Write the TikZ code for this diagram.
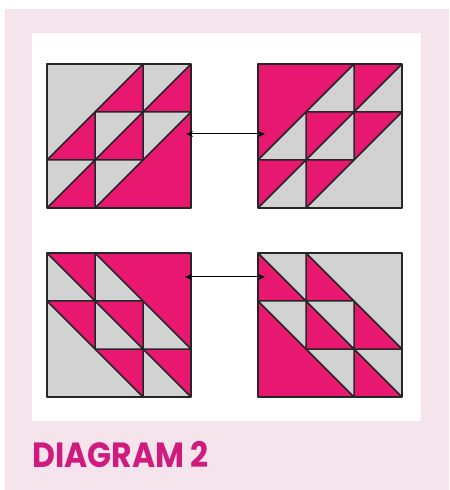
\documentclass[tikz,border=0pt]{standalone}
\usepackage{fontspec}
\newfontfamily\titlefont{Poppins}
\usetikzlibrary{arrows.meta}

\definecolor{quiltpink}{HTML}{E8176F}
\definecolor{quiltgray}{HTML}{D2D2D2}
\definecolor{panelpink}{HTML}{F6E4EC}
\definecolor{titlepink}{HTML}{CF1A7E}

% one 3x3 block, #1 = colour above the diagonals, #2 = colour below
\newcommand{\geeseblock}[2]{%
  \fill[#2] (0,0) rectangle (3,3);
  \fill[#1] (0,1) -- (0,3) -- (2,3) -- cycle
            (2,2) -- (2,3) -- (3,3) -- cycle
            (1,1) -- (1,2) -- (2,2) -- cycle
            (2,1) -- (2,2) -- (3,2) -- cycle
            (0,0) -- (0,1) -- (1,1) -- cycle
            (1,0) -- (1,1) -- (2,1) -- cycle;
  \draw[seam] (0,0) -- (3,3) (0,1) -- (2,3) (1,0) -- (3,2)
              (1,0) -- (1,2) (2,1) -- (2,3)
              (0,1) -- (2,1) (1,2) -- (3,2);
  \draw[seam] (0,0) rectangle (3,3);
}

\begin{document}
\begin{tikzpicture}[
    x=0.5pt, y=-0.5pt,
    seam/.style={line width=0.75pt, black!85, line join=round},
    swap/.style={{Stealth[length=3.5pt,width=3pt]}-{Stealth[length=3.5pt,width=3pt]}, line width=0.5pt},
    title/.style={font=\titlefont\bfseries\fontsize{17.5}{20}\selectfont, text=titlepink, inner sep=0pt, xscale=0.9}
]
\useasboundingbox (0,0) rectangle (449,490);

% panels
\fill[panelpink] (5,9) rectangle (449,490);
\fill[white] (32,33) rectangle (421,421);

% top row (diagonals going up)
\begin{scope}[shift={(23.5pt,-104pt)}, x=24pt, y=24pt]
  \geeseblock{quiltgray}{quiltpink}
\end{scope}
\begin{scope}[shift={(129pt,-104pt)}, x=24pt, y=24pt]
  \geeseblock{quiltpink}{quiltgray}
\end{scope}

% bottom row (same blocks flipped)
\begin{scope}[shift={(23.5pt,-126.5pt)}, x=24pt, y=-24pt]
  \geeseblock{quiltgray}{quiltpink}
\end{scope}
\begin{scope}[shift={(129pt,-126.5pt)}, x=24pt, y=-24pt]
  \geeseblock{quiltpink}{quiltgray}
\end{scope}

% swap arrows
\coordinate (topleft) at (186,134);
\coordinate (topright) at (265,134);
\coordinate (botleft) at (185,277);
\coordinate (botright) at (265,277);
\draw[swap] (topleft) -- (topright);
\draw[swap] (botleft) -- (botright);

\node[title, anchor=base west] (caption) at (32,467) {DIAGRAM\hspace{0.2em}2};

\end{tikzpicture}
\end{document}
